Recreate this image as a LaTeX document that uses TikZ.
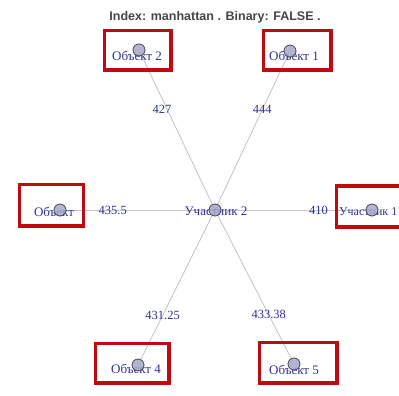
\documentclass[tikz,border=0pt]{standalone}
\usepackage{fontspec}
\setmainfont{Liberation Serif}
\newfontfamily\titlefont{Liberation Sans}
\definecolor{edgegray}{RGB}{195,195,200}
\definecolor{labelblue}{RGB}{50,50,150}
\definecolor{vertfill}{RGB}{165,168,200}
\definecolor{vertline}{RGB}{70,70,80}
\definecolor{boxred}{RGB}{192,10,15}
\definecolor{titlegray}{RGB}{70,70,70}
\tikzset{
  vert/.style={circle, draw=vertline, fill=vertfill, fill opacity=0.85, line width=0.8pt, minimum size=12pt, inner sep=0pt},
  vlabel/.style={text=labelblue, font=\fontsize{13}{14}\selectfont, inner sep=0pt},
  elabel/.style={text=labelblue, font=\fontsize{12.5}{14}\selectfont, inner sep=1pt},
  link/.style={draw=edgegray, line width=0.8pt},
  markbox/.style={draw=boxred, line width=3.5pt}
}
\begin{document}
\begin{tikzpicture}[x=1pt, y=-1pt]
\useasboundingbox (0,0) rectangle (399,396);
\fill[white] (0,0) rectangle (399,396);

\node[font=\titlefont\bfseries\fontsize{12.5}{14}\selectfont, text=titlegray] (title) at (215,17) {Index: manhattan . Binary: FALSE .};

% vertex positions
\coordinate (pc) at (215,210);
\coordinate (p1) at (290,51);
\coordinate (p2) at (139,50);
\coordinate (p3) at (60,210);
\coordinate (pu) at (372,210);
\coordinate (p4) at (138,365);
\coordinate (p5) at (294,364);

% edges from the central participant
\draw[link] (pc) -- node[elabel, pos=0.63, xshift=-5pt] (e2) {427} (p2);
\draw[link] (pc) -- node[elabel, pos=0.63] (e1) {444} (p1);
\draw[link] (pc) -- node[elabel, pos=0.66] (e3) {435.5} (p3);
\draw[link] (pc) -- node[elabel, pos=0.66] (eu) {410} (pu);
\draw[link] (pc) -- node[elabel, pos=0.68] (e4) {431.25} (p4);
\draw[link] (pc) -- node[elabel, pos=0.68] (e5) {433.38} (p5);

% vertex labels
\node[vlabel] (lc) at (216,211) {Участник 2};
\node[vlabel] (l1) at (294,56) {Объект 1};
\node[vlabel] (l2) at (137,56) {Объект 2};
\node[vlabel] (l3) at (54,212) {Объект};
\node[vlabel, anchor=west, font=\fontsize{12}{13}\selectfont] (lu) at (339,212) {Участник 1};
\node[vlabel] (l4) at (136,369) {Объект 4};
\node[vlabel] (l5) at (294,370) {Объект 5};

% vertices
\foreach \p in {pc,p1,p2,p3,pu,p4,p5}
  \node[vert] (v\p) at (\p) {};

% highlight frames
\draw[markbox] (104.5,30.5) rectangle (171,70);
\draw[markbox] (263.5,30.5) rectangle (331,70);
\draw[markbox] (19.5,184.5) rectangle (83.5,226);
\draw[markbox] (336.5,186) rectangle (405,227);
\draw[markbox] (95.5,343.5) rectangle (169,383);
\draw[markbox] (259.5,342.5) rectangle (337,383);
\end{tikzpicture}
\end{document}
